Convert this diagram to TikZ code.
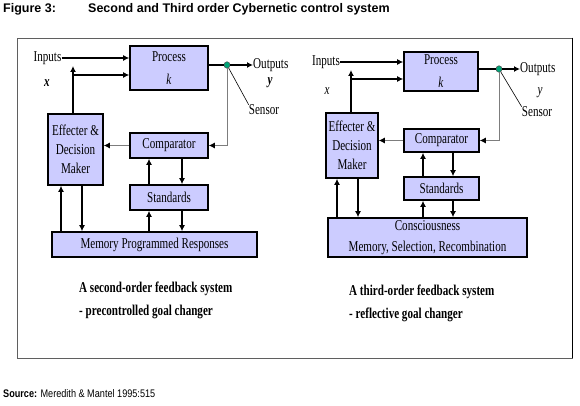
\documentclass[tikz,border=0pt]{standalone}
\usepackage{fontspec}
\setmainfont{Liberation Serif}
\newfontfamily\cond[FakeStretch=0.74]{Liberation Serif}
\newfontfamily\sans{Liberation Sans}
\newfontfamily\sansn[FakeStretch=0.83]{Liberation Sans}
\usetikzlibrary{arrows.meta,shapes.geometric}
\definecolor{boxfill}{RGB}{204,204,255}
\definecolor{sensgreen}{RGB}{0,165,120}
\definecolor{linegray}{RGB}{125,125,125}
\definecolor{framec}{RGB}{95,95,95}
\begin{document}
\begin{tikzpicture}[x=1pt,y=-1pt,
  box/.style={draw, line width=1.6pt, fill=boxfill, inner sep=0pt, align=center, font=\cond\fontsize{15}{19}\selectfont},
  lbl/.style={inner sep=0pt, font=\cond\fontsize{15}{18}\selectfont},
  arr/.style={line width=1.25pt, -{Latex[length=6pt,width=6pt]}},
  garr/.style={line width=0.9pt, draw=linegray, -{Latex[length=6pt,width=6pt,fill=black,color=black]}},
  ln/.style={line width=1.25pt},
  sens/.style={ellipse, draw=black!70, fill=sensgreen, minimum width=6pt, minimum height=6.5pt, inner sep=0pt, line width=0.5pt},
  captext/.style={inner sep=0pt, anchor=west, align=left, font=\cond\bfseries\fontsize{15}{23}\selectfont}
]
\useasboundingbox[fill=white] (0,0) rectangle (580,406);

% title and source
\node[anchor=west, inner sep=0pt, font=\sans\bfseries\fontsize{12.5}{14}\selectfont] (fig) at (3,9) {Figure 3:};
\node[anchor=west, inner sep=0pt, font=\sans\bfseries\fontsize{12.5}{14}\selectfont] (ttl) at (88,9) {Second and Third order Cybernetic control system};
\node[anchor=west, inner sep=0pt, font=\sansn\fontsize{11}{13}\selectfont] (src) at (3,394) {\textbf{Source:} Meredith \& Mantel 1995:515};

% frame
\node[draw=framec, line width=0.9pt, minimum width=555pt, minimum height=320pt, inner sep=0pt] (frame) at (294.5,198) {};
\draw[line width=1.6pt] (frame.north east) -- (frame.south east);

% ---------- left system ----------
\node[box, minimum width=78pt, minimum height=44pt] (procL) at (169,68) {Process\\[4pt]\textit{k}};
\node[box, minimum width=55pt, minimum height=71pt] (effL) at (75.5,149.5) {Effecter \&\\Decision\\Maker};
\node[box, minimum width=78pt, minimum height=25pt] (compL) at (169,145.5) {Comparator};
\node[box, minimum width=78pt, minimum height=25pt] (stdL) at (169,197.5) {Standards};
\node[box, minimum width=205pt, minimum height=25pt] (memL) at (154.5,244.5) {Memory Programmed Responses};
\node[lbl] (inL) at (47.5,58) {Inputs};
\node[lbl] (xL) at (47,83) {\bfseries\itshape x};
\node[lbl, anchor=west] (outL) at (253,65) {Outputs};
\node[lbl] (yL) at (270,83) {\bfseries\itshape y};
\node[lbl] (snL) at (264,110) {Sensor};
\node[sens] (sL) at (227,65) {};

\coordinate (L61) at (61,0);
\coordinate (L73) at (73,0);
\coordinate (L82) at (82,0);
\coordinate (L149) at (149,0);
\coordinate (L182) at (182,0);
\coordinate (L67) at (0,66);
\coordinate (L75) at (0,75);

\draw[arr] (inL.east) -- (inL.east -| procL.west);
\draw[arr] (effL.north -| L73) -- (L73 |- L67);
\draw[arr] (L73 |- L75) -- (procL.west |- L75);
\draw[ln] (procL.east |- sL) -- (sL);
\draw[arr] (sL) -- (outL.west);
\draw[line width=0.6pt] (sL) -- (snL.north west);
\draw[garr] (sL) |- (compL.east);
\draw[garr] (compL.west) -- (compL.west -| effL.east);
\draw[arr] (stdL.north -| L149) -- (compL.south -| L149);
\draw[arr] (compL.south -| L182) -- (stdL.north -| L182);
\draw[arr] (memL.north -| L149) -- (stdL.south -| L149);
\draw[arr] (stdL.south -| L182) -- (memL.north -| L182);
\draw[arr] (memL.north -| L61) -- (effL.south -| L61);
\draw[arr] (effL.south -| L82) -- (memL.north -| L82);

% ---------- right system ----------
\node[box, minimum width=74pt, minimum height=39pt] (procR) at (441,71.5) {Process\\[4pt]\textit{k}};
\node[box, minimum width=52pt, minimum height=65pt] (effR) at (352,145.5) {Effecter \&\\Decision\\Maker};
\node[box, minimum width=75pt, minimum height=23pt] (compR) at (441.5,140.5) {Comparator};
\node[box, minimum width=75pt, minimum height=23pt] (stdR) at (441.5,188.5) {Standards};
\node[box, minimum width=199pt, minimum height=39pt, font=\cond\fontsize{15}{21}\selectfont] (conR) at (427.5,237.5) {Consciousness\\Memory, Selection, Recombination};
\node[lbl] (inR) at (326,62) {Inputs};
\node[lbl] (xR) at (327,91) {\itshape x};
\node[lbl, anchor=west] (outR) at (520,69) {Outputs};
\node[lbl] (yR) at (540,93) {\itshape y};
\node[lbl] (snR) at (537,112) {Sensor};
\node[sens] (sR) at (499,69) {};

\coordinate (R337) at (337,0);
\coordinate (R351) at (351,0);
\coordinate (R358) at (358,0);
\coordinate (R423) at (423,0);
\coordinate (R453) at (453,0);
\coordinate (R70) at (0,70);
\coordinate (R79) at (0,79);

\draw[arr] (inR.east) -- (inR.east -| procR.west);
\draw[arr] (effR.north -| R351) -- (R351 |- R70);
\draw[arr] (R351 |- R79) -- (procR.west |- R79);
\draw[ln] (procR.east |- sR) -- (sR);
\draw[arr] (sR) -- (outR.west);
\draw[line width=0.6pt] (sR) -- (snR.north west);
\draw[garr] (sR) |- (compR.east);
\draw[garr] (compR.west) -- (compR.west -| effR.east);
\draw[arr] (stdR.north -| R423) -- (compR.south -| R423);
\draw[arr] (compR.south -| R453) -- (stdR.north -| R453);
\draw[arr] (conR.north -| R423) -- (stdR.south -| R423);
\draw[arr] (stdR.south -| R453) -- (conR.north -| R453);
\draw[arr] (conR.north -| R337) -- (effR.south -| R337);
\draw[arr] (effR.south -| R358) -- (conR.north -| R358);

% captions
\node[captext] (capL) at (79,300.5) {A second-order feedback system\\- precontrolled goal changer};
\node[captext] (capR) at (349,303.5) {A third-order feedback system\\- reflective goal changer};
\end{tikzpicture}
\end{document}
